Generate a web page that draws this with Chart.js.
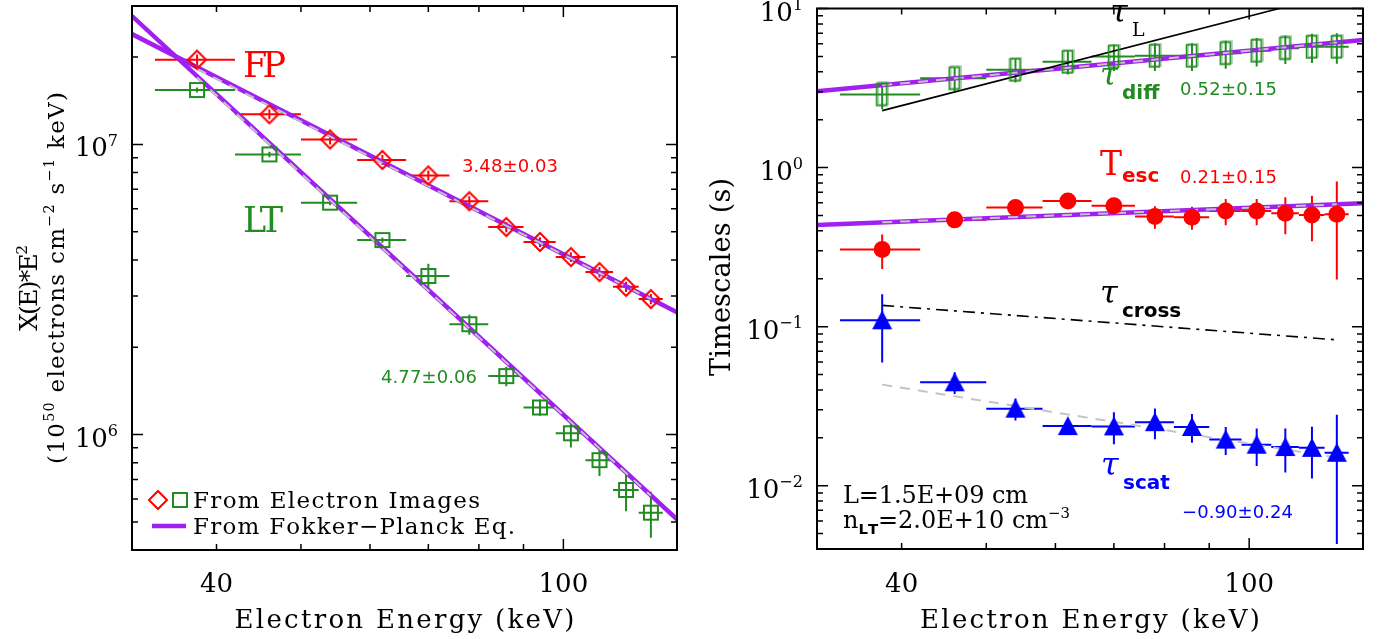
<!DOCTYPE html>
<html><head><meta charset="utf-8">
<script src="https://cdn.jsdelivr.net/npm/chart.js@4"></script>
<style>
body{margin:0;background:#fff;width:1381px;height:639px;overflow:hidden;position:relative}
canvas{position:absolute;top:0}
#flux{left:0}
#times{left:690px}
</style></head><body>
<canvas id="flux" width="690" height="639"></canvas>
<canvas id="times" width="691" height="639"></canvas>
<script>
// energy bins (keV), each 8 keV wide
const energy = [38, 46, 54, 62, 70, 78, 86, 94, 102, 110, 118, 126];
const binHalfWidth = 4;

// left panel: X(E)*E^2  (1e50 electrons cm^-2 s^-1 keV)
const fpFlux = [1.96e7, 1.27e7, 1.04e7, 8.84e6, 7.82e6, 6.37e6, 5.19e6, 4.61e6, 4.09e6, 3.63e6, 3.23e6, 2.93e6];
const fpErr  = [8e5, 5e5, 4e5, 3.5e5, 3.1e5, 2.6e5, 2.1e5, 1.8e5, 1.6e5, 1.5e5, 1.3e5, 1.2e5];
const ltFlux = [1.54e7, 9.24e6, 6.30e6, 4.68e6, 3.52e6, 2.40e6, 1.59e6, 1.24e6, 1.01e6, 8.16e5, 6.44e5, 5.38e5];
const ltErr  = [3e5, 2e5, 1.3e5, 1e5, 3.6e5, 1.9e5, 1.24e5, 0.8e5, 1.07e5, 0.96e5, 1.0e5, 0.97e5];
// Fokker-Planck curves and power-law fits
const modelEnergy = [32, 60, 100, 135];
const fpModel = [2.40e7, 9.15e6, 4.18e6, 2.64e6];
const ltModel = [2.77e7, 4.84e6, 1.17e6, 5.10e5];
const fitEnergy = [38, 126];
const fpFit = [1.82e7, 2.93e6];
const ltFit = [1.70e7, 6.15e5];

// right panel: timescales (s)
const tauDiff    = [2.88, 3.64, 4.12, 4.62, 4.99, 5.04, 5.04, 5.23, 5.42, 5.62, 5.74, 5.74];
const tauDiffErr = [0.55, 0.62, 0.70, 0.78, 0.95, 1.0, 1.0, 1.05, 1.1, 1.15, 1.2, 1.25];
const tEsc       = [0.305, 0.469, 0.560, 0.617, 0.576, 0.492, 0.487, 0.534, 0.534, 0.516, 0.504, 0.508];
const tEscErr    = [0.075, 0.03, 0.04, 0.04, 0.07, 0.08, 0.08, 0.10, 0.10, 0.135, 0.16, 0.31];
const tauScat    = [0.1096, 0.0447, 0.0305, 0.0237, 0.0236, 0.0251, 0.0234, 0.0195, 0.0181, 0.0175, 0.0173, 0.0161];
const tauScatErr = [0.05, 0.007, 0.0048, 0.002, 0.0054, 0.0055, 0.0048, 0.0039, 0.0048, 0.0054, 0.0062, 0.0118];
const edgeEnergy = [32, 135];
const diffModel = [3.02, 6.35];
const escModel  = [0.436, 0.596];
const diffFit = [3.29, 6.12];
const escFit  = [0.453, 0.587];
const scatFit = [0.0432, 0.0150];
const tauL     = [2.28, 12.4];
const tauCross = [0.136, 0.0826];

// axes
const xRange = [32, 135];
const fluxRange = [4e5, 3e7];
const timeRange = [4e-3, 10];
const xLabelTicks = [40, 100];
const xMajorTicks = [100];
const xMinorTicks = [40, 50, 60, 70, 80, 90];
const fluxMajorTicks = [1e6, 1e7];
const timeMajorTicks = [1e-2, 1e-1, 1, 10];

const RED = '#ff0000', GREEN = '#228b22', BLUE = '#0000ff', PURPLE = '#a020f0', GRAY = '#c4c4c4';
const SERIF = '"DejaVu Serif", serif', SANS = '"DejaVu Sans", sans-serif';

const pts = (xs, ys) => xs.map((x, i) => ({x, y: ys[i]}));

function minorsBetween(lo, hi) {
  const out = [];
  for (let d = Math.floor(Math.log10(lo)); d <= Math.ceil(Math.log10(hi)); d++)
    for (let k = 2; k <= 9; k++) {
      const v = k * Math.pow(10, d);
      if (v > lo * 1.001 && v < hi * 0.999) out.push(v);
    }
  return out;
}

function markerCanvas(w, h, draw) {
  const c = document.createElement('canvas');
  c.width = w; c.height = h;
  draw(c.getContext('2d'));
  return c;
}
const diamondMark = markerCanvas(22, 22, g => {
  g.strokeStyle = RED; g.lineWidth = 2;
  g.beginPath(); g.moveTo(11, 2); g.lineTo(20, 11); g.lineTo(11, 20); g.lineTo(2, 11); g.closePath(); g.stroke();
});
const squareMark = markerCanvas(18, 18, g => {
  g.strokeStyle = GREEN; g.lineWidth = 2; g.strokeRect(2, 2, 14, 14);
});
const boxMark = markerCanvas(14, 26, g => {
  g.strokeStyle = GREEN; g.lineWidth = 1.5; g.strokeRect(1.5, 2, 10, 22);
  g.strokeStyle = 'rgba(34,139,34,0.45)'; g.strokeRect(3, 1, 10, 22);
});
const triMark = markerCanvas(22, 22, g => {
  g.fillStyle = BLUE;
  g.beginPath(); g.moveTo(11, 1); g.lineTo(21, 20); g.lineTo(1, 20); g.closePath(); g.fill();
});

// text with superscripts / subscripts, optional stretch to a target width
function rich(ctx, segs, x, y, o) {
  ctx.save();
  ctx.translate(x, y);
  if (o.rot) ctx.rotate(o.rot);
  ctx.fillStyle = o.color || '#000';
  ctx.textBaseline = 'alphabetic';
  const items = segs.map(s => {
    const [t, k] = Array.isArray(s) ? s : [s, ''];
    const size = k ? o.size * 0.62 : o.size;
    const font = (k === 'bsub' ? 'bold ' + size + 'px ' + SANS : size + 'px ' + (o.family || SERIF));
    const dy = k === 'sup' ? -o.size * 0.42 : k ? o.size * 0.25 : 0;
    ctx.font = font;
    const ws = [...t].map(ch => ctx.measureText(ch).width);
    return {t: [...t], font, dy, ws};
  });
  const nat = items.reduce((a, it) => a + it.ws.reduce((p, q) => p + q, 0), 0);
  const n = items.reduce((a, it) => a + it.t.length, 0);
  const ls = o.width ? (o.width - nat) / Math.max(1, n - 1) : 0;
  const total = nat + ls * (n - 1);
  let cx = o.align === 'center' ? -total / 2 : o.align === 'right' ? -total : 0;
  items.forEach(it => {
    ctx.font = it.font;
    it.t.forEach((ch, i) => { ctx.fillText(ch, cx, it.dy); cx += it.ws[i] + ls; });
  });
  ctx.restore();
}

function errorBars(chart) {
  const {ctx, chartArea: a, scales: {x, y}} = chart;
  ctx.save();
  ctx.beginPath(); ctx.rect(a.left, a.top, a.width, a.height); ctx.clip();
  chart.data.datasets.forEach(ds => {
    if (!ds.yErr) return;
    ctx.strokeStyle = ds.barColor; ctx.lineWidth = 2;
    ds.data.forEach((p, i) => {
      const px = x.getPixelForValue(p.x), py = y.getPixelForValue(p.y);
      const lo = p.y - ds.yErr[i];
      ctx.beginPath();
      ctx.moveTo(x.getPixelForValue(p.x - binHalfWidth), py);
      ctx.lineTo(x.getPixelForValue(p.x + binHalfWidth), py);
      ctx.moveTo(px, lo > 0 ? y.getPixelForValue(lo) : a.bottom);
      ctx.lineTo(px, y.getPixelForValue(p.y + ds.yErr[i]));
      ctx.stroke();
    });
  });
  ctx.restore();
}

function decor(cfg) {
  return {
    id: 'decor',
    beforeDatasetsDraw(chart) { errorBars(chart); },
    afterDraw(chart) {
      const {ctx, chartArea: a, scales: {x, y}} = chart;
      ctx.save();
      ctx.strokeStyle = '#000'; ctx.lineWidth = 1.5;
      const xt = (v, len) => {
        const p = x.getPixelForValue(v);
        ctx.beginPath(); ctx.moveTo(p, a.bottom); ctx.lineTo(p, a.bottom - len);
        ctx.moveTo(p, a.top); ctx.lineTo(p, a.top + len); ctx.stroke();
      };
      const yt = (v, len) => {
        const p = y.getPixelForValue(v);
        ctx.beginPath(); ctx.moveTo(a.left, p); ctx.lineTo(a.left + len, p);
        ctx.moveTo(a.right, p); ctx.lineTo(a.right - len, p); ctx.stroke();
      };
      xMinorTicks.forEach(v => xt(v, 6));
      xMajorTicks.forEach(v => xt(v, 11));
      cfg.yMinor.forEach(v => yt(v, 6));
      cfg.yMajor.forEach(v => yt(v, 11));
      ctx.lineWidth = 2;
      ctx.strokeRect(a.left, a.top, a.width, a.height);

      // tick labels
      xLabelTicks.forEach(v => rich(ctx, [String(v)], x.getPixelForValue(v), 592, {size: 26, align: 'center'}));
      cfg.yMajor.forEach(v => {
        const e = Math.round(Math.log10(v));
        rich(ctx, ['10', [String(e).replace('-', '\u2212'), 'sup']], a.left - 14, y.getPixelForValue(v) + 12, {size: 26, align: 'right'});
      });
      rich(ctx, ['Electron Energy (keV)'], (a.left + a.right) / 2, 628, {size: 26, align: 'center', width: 340});
      cfg.texts(ctx, chart);
      ctx.restore();
    }
  };
}

const common = (pad, yr) => ({
  responsive: false, animation: false, events: [],
  layout: {padding: pad},
  plugins: {legend: {display: false}, tooltip: {enabled: false}},
  scales: {
    x: {type: 'logarithmic', min: xRange[0], max: xRange[1], display: false},
    y: {type: 'logarithmic', min: yr[0], max: yr[1], display: false}
  }
});

const line = (xs, ys, color, width, dash, order) => ({
  data: pts(xs, ys), showLine: true, borderColor: color, borderWidth: width,
  borderDash: dash || [], pointRadius: 0, clip: 0, order
});
const marks = (ys, err, style, color, radius) => ({
  data: pts(energy, ys), showLine: false, pointStyle: style, pointRadius: radius || 6,
  backgroundColor: color, borderColor: color, borderWidth: 0, yErr: err, barColor: color, order: 0
});

new Chart(document.getElementById('flux'), {
  type: 'scatter',
  data: {datasets: [
    marks(fpFlux, fpErr, diamondMark, RED),
    marks(ltFlux, ltErr, squareMark, GREEN),
    line(fitEnergy, fpFit, GRAY, 2, [10, 8], 1),
    line(fitEnergy, ltFit, GRAY, 2, [10, 8], 1),
    line(modelEnergy, fpModel, PURPLE, 4.5, null, 2),
    line(modelEnergy, ltModel, PURPLE, 4.5, null, 2)
  ]},
  options: common({left: 132, top: 5, right: 13, bottom: 89}, fluxRange),
  plugins: [decor({
    yMajor: fluxMajorTicks,
    yMinor: minorsBetween(fluxRange[0], fluxRange[1]),
    texts(ctx) {
      rich(ctx, ['X(E)*E', ['2', 'sup']], 37, 288, {size: 25, align: 'center', rot: -Math.PI / 2, width: 86});
      rich(ctx, ['(10', ['50', 'sup'], ' electrons cm', ['\u22122', 'sup'], ' s', ['\u22121', 'sup'], ' keV)'],
        64, 278, {size: 23, align: 'center', rot: -Math.PI / 2, width: 372});
      rich(ctx, ['FP'], 243, 77, {size: 35, color: RED, width: 43});
      rich(ctx, ['LT'], 243, 232, {size: 35, color: GREEN, width: 40});
      rich(ctx, ['3.48\u00b10.03'], 462, 172, {size: 18, color: RED, family: SANS, width: 96});
      rich(ctx, ['4.77\u00b10.06'], 477, 383, {size: 18, color: GREEN, family: SANS, align: 'right', width: 96});
      // legend
      ctx.drawImage(diamondMark, 158 - 11, 500 - 11);
      ctx.drawImage(squareMark, 180 - 9, 500 - 9);
      ctx.strokeStyle = PURPLE; ctx.lineWidth = 4.5;
      ctx.beginPath(); ctx.moveTo(152, 526); ctx.lineTo(186, 526); ctx.stroke();
      rich(ctx, ['From Electron Images'], 193, 508, {size: 23, width: 287});
      rich(ctx, ['From Fokker\u2212Planck Eq.'], 193, 534, {size: 23, width: 322});
    }
  })]
});

new Chart(document.getElementById('times'), {
  type: 'scatter',
  data: {datasets: [
    marks(tauDiff, tauDiffErr, boxMark, GREEN),
    marks(tEsc, tEscErr, 'circle', RED, 8.5),
    marks(tauScat, tauScatErr, triMark, BLUE),
    line(fitEnergy, tauL, '#000', 1.6, null, 1),
    line(fitEnergy, tauCross, '#000', 1.6, [12, 6, 3, 6], 1),
    line(fitEnergy, scatFit, GRAY, 2, [10, 8], 1),
    line(fitEnergy, diffFit, GRAY, 2, [10, 8], 1),
    line(fitEnergy, escFit, GRAY, 2, [10, 8], 1),
    line(edgeEnergy, diffModel, PURPLE, 4.5, null, 2),
    line(edgeEnergy, escModel, PURPLE, 4.5, null, 2)
  ]},
  options: common({left: 127, top: 5, right: 18, bottom: 90}, timeRange),
  plugins: [decor({
    yMajor: timeMajorTicks,
    yMinor: minorsBetween(timeRange[0], timeRange[1]),
    texts(ctx) {
      const o = 690;
      rich(ctx, ['Timescales (s)'], 40, 277, {size: 27, align: 'center', rot: -Math.PI / 2, width: 198});
      const tau = (t, sub, x, y, color, subFont) => {
        ctx.fillStyle = color;
        ctx.font = t === 'T' ? '33px ' + SERIF : 'italic 32px ' + SERIF;
        ctx.fillText(t, x - o, y);
        ctx.font = subFont || ('bold 20px ' + SANS);
        ctx.fillText(sub, x - o + 22, y + (t === 'T' ? 7 : 14));
      };
      tau('\u03c4', 'L', 1110, 22, '#000', '19px ' + SERIF);
      tau('\u03c4', 'diff', 1100, 85, GREEN);
      tau('T', 'esc', 1100, 175, RED);
      tau('\u03c4', 'cross', 1100, 303, '#000');
      tau('\u03c4', 'scat', 1101, 475, BLUE);
      rich(ctx, ['0.52\u00b10.15'], 1180 - o, 95, {size: 18, color: GREEN, family: SANS, width: 97});
      rich(ctx, ['0.21\u00b10.15'], 1180 - o, 183, {size: 18, color: RED, family: SANS, width: 97});
      rich(ctx, ['\u22120.90\u00b10.24'], 1182 - o, 518, {size: 18, color: BLUE, family: SANS, width: 111});
      rich(ctx, ['L=1.5E+09 cm'], 843 - o, 503, {size: 24, width: 185});
      rich(ctx, ['n', ['LT', 'bsub'], '=2.0E+10 cm', ['\u22123', 'sup']], 843 - o, 528, {size: 24, width: 227});
    }
  })]
});
</script></body></html>
